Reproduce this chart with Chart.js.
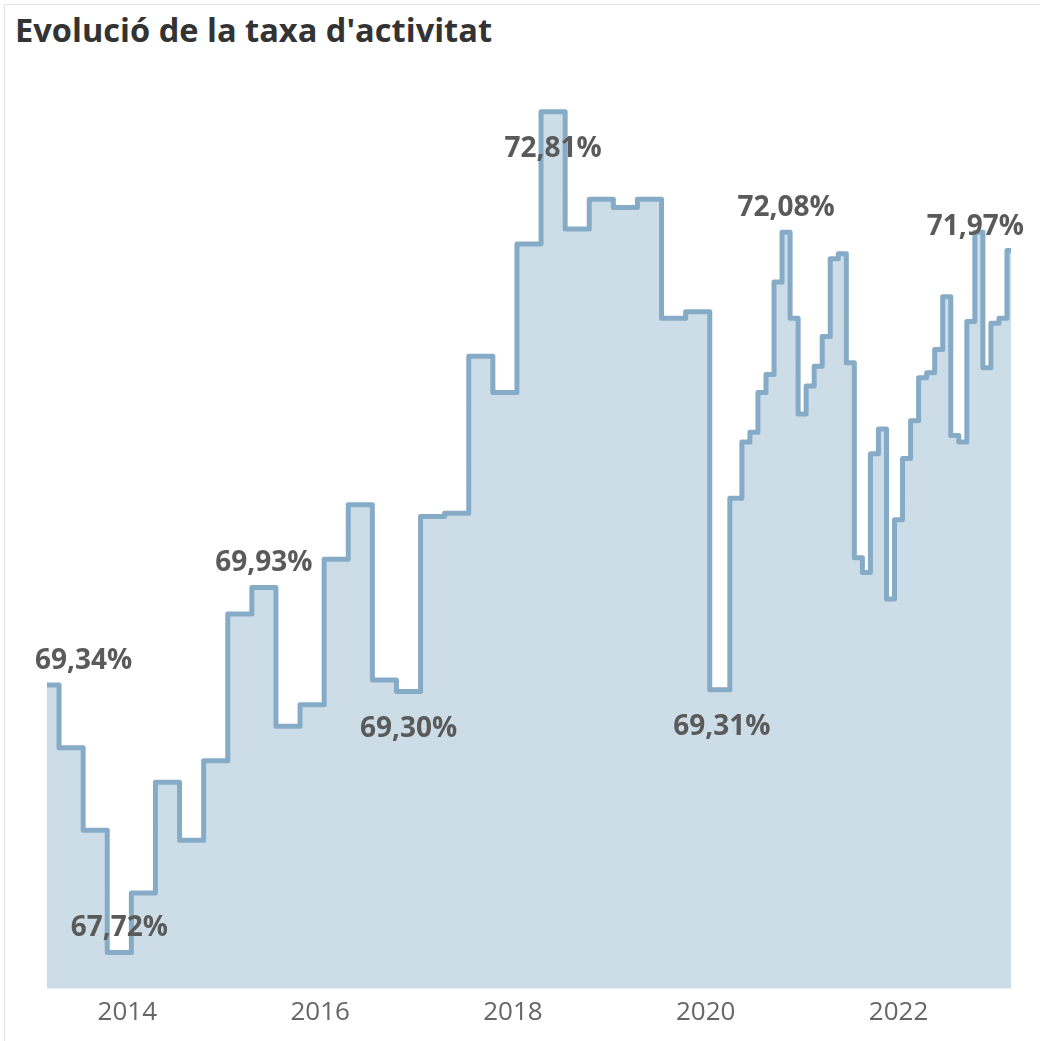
<!DOCTYPE html>
<html>
<head>
<meta charset="utf-8">
<script src="https://cdn.jsdelivr.net/npm/chart.js@4.4.1/dist/chart.umd.min.js"></script>
<style>
  html, body { margin: 0; padding: 0; background: #fff; }
  #frame {
    position: relative; width: 1040px; height: 1041px; overflow: hidden;
    font-family: "Open Sans", "Noto Sans", sans-serif;
  }
  #border {
    position: absolute; left: 4px; top: 4px; width: 1100px; height: 1100px;
    border: 1px solid #e6e6e6; box-sizing: border-box;
  }
  #title {
    position: absolute; left: 15px; top: 14px; margin: 0;
    font-size: 32.6px; line-height: 32.6px; font-weight: 700; color: #333;
    white-space: nowrap;
  }
  #chart { position: absolute; left: 0; top: 0; }
</style>
</head>
<body>
<div id="frame">
  <div id="border"></div>
  <h1 id="title">Evolució de la taxa d'activitat</h1>
  <canvas id="chart" width="1040" height="1041"></canvas>
</div>
<script>
// --- Data: quarterly until Feb 2020, monthly from Apr 2020 ---
const periods = [
  '2013-02', '2013-05', '2013-08', '2013-11',
  '2014-02', '2014-05', '2014-08', '2014-11',
  '2015-02', '2015-05', '2015-08', '2015-11',
  '2016-02', '2016-05', '2016-08', '2016-11',
  '2017-02', '2017-05', '2017-08', '2017-11',
  '2018-02', '2018-05', '2018-08', '2018-11',
  '2019-02', '2019-05', '2019-08', '2019-11',
  '2020-02', '2020-04', '2020-05', '2020-06', '2020-07', '2020-08',
  '2020-09', '2020-10', '2020-11', '2020-12',
  '2021-01', '2021-02', '2021-03', '2021-04', '2021-05', '2021-06',
  '2021-07', '2021-08', '2021-09', '2021-10', '2021-11', '2021-12',
  '2022-01', '2022-02', '2022-03', '2022-04', '2022-05', '2022-06',
  '2022-07', '2022-08', '2022-09', '2022-10', '2022-11', '2022-12',
  '2023-01', '2023-02'
];

const rates = [
  69.34, 68.96, 68.46, 67.72,
  68.08, 68.75, 68.40, 68.88,
  69.77, 69.93, 69.09, 69.22,
  70.10, 70.43, 69.37, 69.30,
  70.36, 70.38, 71.33, 71.11,
  72.01, 72.81, 72.10, 72.28,
  72.23, 72.28, 71.56, 71.60,
  69.31, 70.47, 70.81, 70.87, 71.11, 71.22,
  71.78, 72.08, 71.56, 70.98,
  71.15, 71.27, 71.45, 71.92, 71.95, 71.29,
  70.11, 70.02, 70.74, 70.89, 69.86, 70.34,
  70.71, 70.94, 71.20, 71.23, 71.37, 71.69,
  70.85, 70.81, 71.54, 72.08, 71.26, 71.53,
  71.56, 71.97
];

const tickYears = [2014, 2016, 2018, 2020, 2022];

// periods that carry a value label, and whether it sits above or below the line
const labelled = {
  '2013-02': 'above', '2013-11': 'above', '2015-05': 'above', '2016-11': 'below',
  '2018-05': 'below', '2020-02': 'below', '2020-10': 'above', '2023-02': 'above'
};

// --- Helpers ---
function toYear(p) {
  const [y, m] = p.split('-').map(Number);
  return y + m / 12; // end of month
}

function fmtPct(v) {
  return v.toFixed(2).replace('.', ',') + '%';
}

const valueLabels = {
  id: 'valueLabels',
  afterDatasetsDraw(chart) {
    const { ctx, chartArea } = chart;
    const meta = chart.getDatasetMeta(0);
    ctx.save();
    ctx.font = '700 28px "Open Sans"';
    ctx.fillStyle = '#5a5a5a';
    ctx.textBaseline = 'alphabetic';
    ctx.textAlign = 'left';
    periods.forEach((p, i) => {
      const pos = labelled[p];
      if (!pos) return;
      const pt = meta.data[i];
      const text = fmtPct(rates[i]);
      const w = ctx.measureText(text).width;
      let x = pt.x - w / 2;
      x = Math.max(chartArea.left - 12, Math.min(x, chartArea.right + 13 - w));
      const y = pos === 'above' ? pt.y - 16 : pt.y + 45.5;
      ctx.fillText(text, x, y);
    });
    ctx.restore();
  }
};

new Chart(document.getElementById('chart'), {
  type: 'line',
  data: {
    datasets: [{
      data: periods.map((p, i) => ({ x: toYear(p), y: rates[i] })),
      stepped: 'middle',
      borderColor: '#86abc7',
      backgroundColor: '#ccdde8',
      borderWidth: 5,
      borderJoinStyle: 'round',
      borderCapStyle: 'round',
      fill: 'start',
      pointRadius: 0,
      pointHoverRadius: 0
    }]
  },
  options: {
    responsive: false,
    animation: false,
    devicePixelRatio: 1,
    layout: { padding: { left: 47, right: 29, top: 80.4, bottom: 5 } },
    scales: {
      x: {
        type: 'linear',
        min: toYear(periods[0]),
        max: toYear(periods[periods.length - 1]),
        grid: { display: false, drawTicks: false },
        border: { display: false },
        afterBuildTicks: scale => { scale.ticks = tickYears.map(v => ({ value: v })); },
        ticks: {
          padding: 8,
          color: '#666',
          font: { family: '"Open Sans"', size: 26 },
          maxRotation: 0,
          callback: v => String(v)
        }
      },
      y: { display: false, min: 67.5, max: 73 }
    },
    plugins: {
      legend: { display: false },
      tooltip: { enabled: false }
    }
  },
  plugins: [valueLabels]
});
</script>
</body>
</html>
